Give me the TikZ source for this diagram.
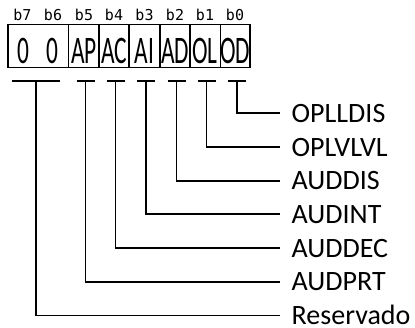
\documentclass[tikz,border=0pt]{standalone}
\usepackage{fontspec}
\newfontfamily\fieldfont[FakeStretch=0.6]{Carlito}
\newfontfamily\namefont{Carlito}
\newfontfamily\bitfont{DejaVu Sans Mono}
\tikzset{
  reg/.style={line width=1.8pt},
  bitlabel/.style={font=\bitfont\fontsize{15}{16}\selectfont, inner sep=0pt},
  field/.style={font=\fieldfont\fontsize{39}{40}\selectfont, inner sep=0pt, anchor=base},
  fieldname/.style={font=\namefont\fontsize{28}{30}\selectfont, anchor=west, inner xsep=11.5pt, inner ysep=0pt, text height=18.2pt, text depth=0pt},
}
\begin{document}
\begin{tikzpicture}[x=1pt,y=-1pt]
  \useasboundingbox (0,0) rectangle (415,327);

  % Bit numbers
  \foreach \b/\x in {7/22.5, 6/53, 5/84, 4/114, 3/144.5, 2/175, 1/205, 0/235}{
    \node[bitlabel] (b\b) at (\x,15) {b\b};
  }

  % Register box and cell borders
  \draw[reg] (8,24.5) rectangle (250,67.5);
  \foreach \x in {68.5, 99, 129, 160, 190, 220.5}{
    \draw[line width=1.6pt] (\x,24.5) -- (\x,67.5);
  }

  % Field contents
  \foreach \n/\x/\t in {7/23/0, 6/52.5/0, 5/84/AP, 4/114/AC, 3/144.5/AI, 2/175/AD, 1/205/OL, 0/235/OD}{
    \node[field] (f\n) at (\x,63) {\t};
  }

  % Brackets under the fields
  \foreach \n/\x/\w in {7/36/24, 5/85.5/9, 4/115.5/9, 3/146/9, 2/176.5/9, 1/206.5/9, 0/237/9}{
    \draw[reg] (\x-\w,81) -- (\x+\w,81);
    \coordinate (t\n) at (\x,81);
  }

  % Field names
  \foreach \n/\y/\t in {0/113.3/OPLLDIS, 1/147/OPLVLVL, 2/180.6/AUDDIS, 3/214.3/AUDINT,
                        4/248/AUDDEC, 5/281.7/AUDPRT, 7/315.5/Reservado}{
    \node[fieldname] (n\n) at (280,\y) {\t};
    \draw[reg] (t\n) |- (n\n.west);
  }
\end{tikzpicture}
\end{document}
